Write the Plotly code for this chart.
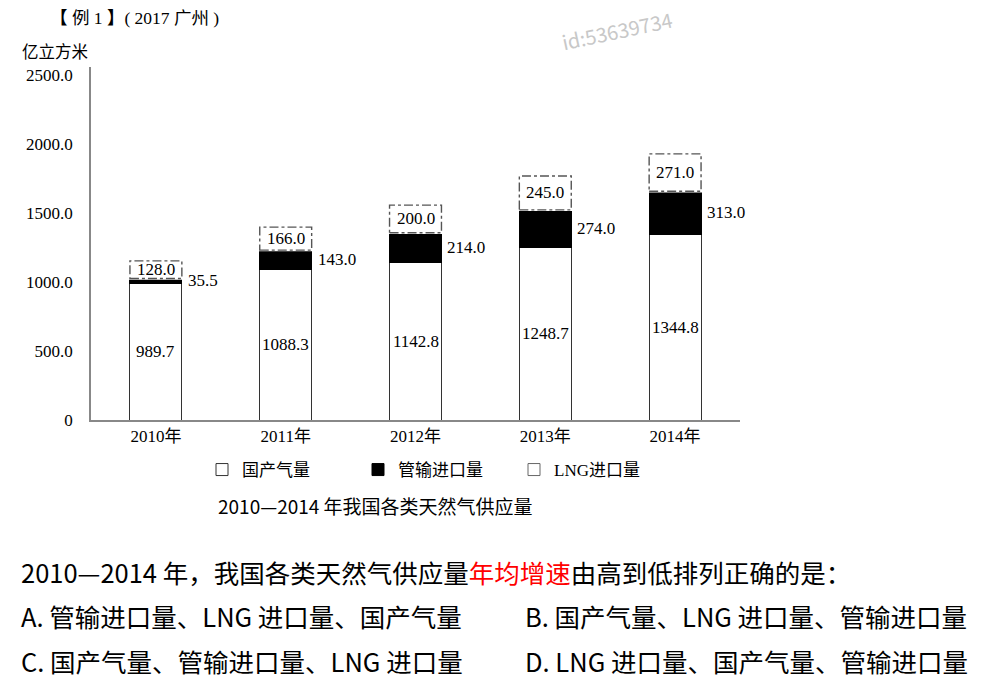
import plotly.graph_objects as go

years = ["2010年", "2011年", "2012年", "2013年", "2014年"]
domestic = [989.7, 1088.3, 1142.8, 1248.7, 1344.8]
pipeline = [35.5, 143.0, 214.0, 274.0, 313.0]
lng = [128.0, 166.0, 200.0, 245.0, 271.0]
y_ticks = [0, 500, 1000, 1500, 2000, 2500]
y_tick_text = ["0", "500.0", "1000.0", "1500.0", "2000.0", "2500.0"]

SERIF = "Liberation Serif, Noto Sans CJK SC"
SANS = "Noto Sans CJK SC, Noto Sans"
BW = 0.4

# the page adds an 8px body margin; lay out in reference pixels minus OFF
OFF = 8
W, H = 997 - OFF, 681 - OFF
L, T = 91 - OFF, 67 - OFF
R, B = 997 - 740, 681 - 420
PW, PH = W - L - R, H - T - B


def px(x):
    return (x - OFF - L) / PW


def py(y):
    return (H - B - (y - OFF)) / PH


fig = go.Figure()
fig.add_trace(go.Bar(
    x=years, y=domestic, name="国产气量", width=BW,
    marker=dict(color="white", line=dict(color="#333", width=1)),
    textposition="none",
))
fig.add_trace(go.Bar(
    x=years, y=pipeline, name="管输进口量", width=BW,
    marker=dict(color="black", line=dict(color="black", width=1)),
    textposition="none",
))
fig.add_trace(go.Bar(
    x=years, y=lng, name="LNG进口量", width=BW,
    marker=dict(color="white", line=dict(color="#666", width=1)),
    textposition="none",
))

shapes = []
annotations = []
lab_font = dict(family=SERIF, size=17, color="black")
for i in range(len(years)):
    base = domestic[i] + pipeline[i]
    top = base + lng[i]
    for col, wd, dash in (("white", 2.5, "solid"), ("#555", 1.4, "dashdot")):
        shapes.append(dict(type="rect", xref="x", yref="y",
                           x0=i - BW / 2, x1=i + BW / 2, y0=base, y1=top,
                           line=dict(color=col, width=wd, dash=dash),
                           layer="above"))
    annotations.append(dict(x=i, y=domestic[i] / 2, xref="x", yref="y",
                            text=f"{domestic[i]:.1f}", showarrow=False,
                            font=lab_font))
    annotations.append(dict(x=i, y=base + lng[i] / 2, xref="x", yref="y",
                            text=f"{lng[i]:.1f}", showarrow=False,
                            font=lab_font))
    annotations.append(dict(x=i + BW / 2, y=domestic[i] + pipeline[i] / 2,
                            xref="x", yref="y", text=f"{pipeline[i]:.1f}",
                            showarrow=False, xanchor="left", xshift=4,
                            font=lab_font))

q_font = dict(family=SANS, size=25.5, color="black")
texts = [
    (48, 18, "<b>【</b> 例 1 <b>】</b>( 2017 广州 )", dict(family=SERIF, size=17.5, color="black")),
    (20, 52, "亿立方米", dict(family=SERIF, size=16.5, color="black")),
    (216, 505, "2010—2014 年我国各类天然气供应量", dict(family=SANS, size=19, color="black")),
    (19, 571, "2010—2014 年，我国各类天然气供应量<span style='color:red'>年均增速</span>由高到低排列正确的是：", q_font),
    (19, 615, "A. 管输进口量、LNG 进口量、国产气量", q_font),
    (523, 615, "B. 国产气量、LNG 进口量、管输进口量", q_font),
    (19, 660, "C. 国产气量、管输进口量、LNG 进口量", q_font),
    (523, 660, "D. LNG 进口量、国产气量、管输进口量", q_font),
]
for x, y, t, f in texts:
    annotations.append(dict(xref="paper", yref="paper", x=px(x), y=py(y), text=t,
                            xanchor="left", yanchor="middle", showarrow=False,
                            font=f))

annotations.append(dict(xref="paper", yref="paper", x=px(617), y=py(31),
                        xanchor="center", yanchor="middle",
                        text="id:53639734", showarrow=False, textangle=-12,
                        font=dict(family=SANS, size=20, color="#c8c8c8")))

fig.update_layout(
    width=W, height=H, barmode="stack",
    margin=dict(l=L, r=R, t=T, b=B, pad=0),
    paper_bgcolor="white", plot_bgcolor="white",
    shapes=shapes, annotations=annotations,
    showlegend=True,
    legend=dict(orientation="h", x=px(202), y=py(470), xanchor="left",
                yanchor="middle", font=dict(family=SERIF, size=17, color="black"),
                itemwidth=30, traceorder="normal",
                entrywidth=111, entrywidthmode="pixels"),
    xaxis=dict(range=[-0.5, 4.5], showline=True, linecolor="#888", linewidth=1.5,
               ticks="", tickfont=dict(family=SERIF, size=17, color="black"),
               showgrid=False, fixedrange=True),
    yaxis=dict(range=[0, 2558], showline=True, linecolor="#888", linewidth=1.5,
               tickvals=y_ticks, ticktext=y_tick_text, ticks="", showgrid=False,
               zeroline=False, ticklabelstandoff=13,
               tickfont=dict(family=SERIF, size=17, color="black")),
)

fig.write_html("out.html")
